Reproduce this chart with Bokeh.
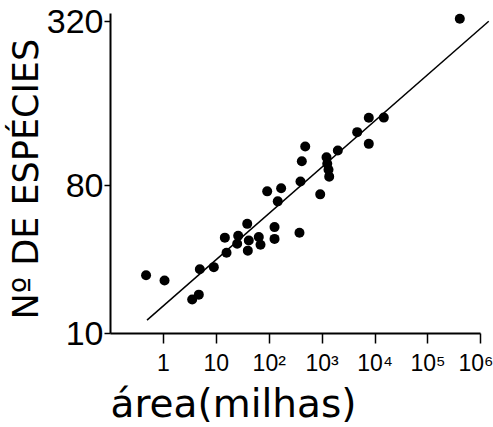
from bokeh.plotting import figure
from bokeh.models import FixedTicker, Range1d, Title
from bokeh.embed import file_html
from bokeh.resources import INLINE

# data (area in square miles, number of species)
area = [4.0e5, 0.47, 1.05, 3.5, 4.67, 4.88, 8.97, 15.6, 14.5, 24.8, 25.9, 38.4,
        41.1, 39.4, 63.5, 68.4, 126, 126, 91.6, 168, 145, 373, 390, 413, 479,
        920, 1210, 1250, 1320, 1360, 1980, 4600, 7620, 7620, 14650]
species = [330, 19.1, 18.0, 14.6, 15.4, 20.4, 20.9, 24.5, 29.0, 27.1, 29.6, 33.8,
           28.1, 25.1, 29.2, 26.8, 32.6, 28.6, 48.5, 50.2, 43.4, 30.6, 54.1, 67.7, 79.8,
           46.9, 70.8, 65.9, 61.7, 57.1, 76.4, 93.6, 109.9, 82.2, 110]
fit_area = [0.49, 1.41e6]
fit_species = [11.6, 321]

x_ticks = [1, 10, 100, 1000, 10000, 100000, 1000000]
x_tick_labels = ["1", "10", "10²", "10³", "10⁴", "10⁵", "10⁶"]
y_ticks = [10, 52, 320]
y_tick_labels = ["10", "80", "320"]
x_title = "área(milhas)"
y_title = "Nº DE ESPÉCIES"

p = figure(width=493, height=427, x_axis_type="log", y_axis_type="log",
           x_range=Range1d(0.1, 10 ** 6.239), y_range=Range1d(10, 404),
           output_backend="svg", toolbar_location=None,
           min_border_left=110, min_border_right=0, min_border_top=0,
           min_border_bottom=94)
p.outline_line_color = None
p.xgrid.visible = False
p.ygrid.visible = False
p.background_fill_color = "white"
p.border_fill_color = "white"

p.line(fit_area, fit_species, line_color="black", line_width=1.5)
p.scatter(area, species, size=10, fill_color="black", line_color=None)

xa = p.xaxis[0]
xa.ticker = FixedTicker(ticks=x_ticks, minor_ticks=[])
xa.major_label_overrides = {t: s for t, s in zip(x_ticks, x_tick_labels)}
xa.bounds = (0.1, 1e6)
xa.axis_line_width = 2
xa.axis_line_color = "black"
xa.major_tick_line_width = 1.5
xa.major_tick_out = 10
xa.major_tick_in = 0
xa.minor_tick_out = 0
xa.minor_tick_in = 0
xa.major_label_text_font = "Liberation Sans"
xa.major_label_text_font_size = "23px"
xa.major_label_text_color = "black"
xa.major_label_standoff = 6

ya = p.yaxis[0]
ya.ticker = FixedTicker(ticks=y_ticks, minor_ticks=[])
ya.major_label_overrides = {t: s for t, s in zip(y_ticks, y_tick_labels)}
ya.bounds = (10, 350)
ya.axis_line_width = 2
ya.axis_line_color = "black"
ya.major_tick_line_width = 1.5
ya.major_tick_out = 6
ya.major_tick_in = 0
ya.minor_tick_out = 0
ya.minor_tick_in = 0
ya.major_label_text_font = "Liberation Sans"
ya.major_label_text_font_size = "34px"
ya.major_label_text_color = "black"
ya.major_label_standoff = 1

p.add_layout(Title(text=x_title, align="left", offset=0, standoff=0,
                   vertical_align="bottom", text_font="DejaVu Sans",
                   text_font_size="39px", text_font_style="normal",
                   text_color="black"), "below")
p.add_layout(Title(text=y_title, align="left", offset=14, standoff=-4,
                   vertical_align="bottom", text_font="DejaVu Sans",
                   text_font_size="35px", text_font_style="normal",
                   text_color="black"), "left")

open("out.html", "w").write(file_html(p, INLINE))
